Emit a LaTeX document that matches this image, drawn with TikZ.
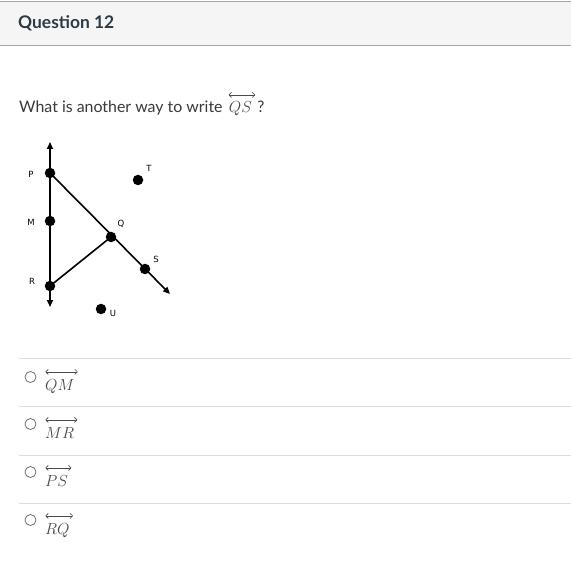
\RequirePackage{fix-cm}
\documentclass[tikz,border=0pt]{standalone}
\usepackage[no-math]{fontspec}
\setmainfont{Lato}
\newfontfamily\lblfont{DejaVu Sans}
\usetikzlibrary{arrows.meta,backgrounds}
\definecolor{hdrfill}{HTML}{F5F5F5}
\definecolor{hdrline}{HTML}{A5A5A5}
\definecolor{titlecol}{HTML}{2D3B45}
\definecolor{bodycol}{HTML}{3A3A3A}
\definecolor{sepcol}{HTML}{DDDDDD}
\definecolor{radiocol}{HTML}{707070}
\definecolor{mathcol}{HTML}{4A4A4A}
\tikzset{
  dot/.style={circle,fill=black,inner sep=0pt,minimum size=10.5pt},
  geoline/.style={line width=1.6pt,black},
  tip/.style={-{Triangle[length=7pt,width=6pt]}},
  lbl/.style={font=\lblfont\fontsize{8.5}{9}\selectfont,inner sep=0pt},
  sep/.style={sepcol,line width=0.9pt},
  radio/.style={circle,draw=radiocol,line width=0.8pt,inner sep=0pt,minimum size=11pt},
  opt/.style={anchor=base west,inner sep=0pt,text=mathcol,font=\fontsize{16}{18}\selectfont},
  marrow/.style={line width=0.6pt,{To[length=3pt,width=5.5pt]}-{To[length=3pt,width=5.5pt]}}
}
\begin{document}
\begin{tikzpicture}[x=1pt,y=-1pt]
\useasboundingbox (0,0) rectangle (571,567);
\begin{scope}[on background layer]
\fill[white] (0,0) rectangle (571,567);
\end{scope}
% header
\fill[hdrfill] (0,2) rectangle (571,46);
\draw[hdrline,line width=1pt] (0,2) -- (571,2);
\draw[hdrline,line width=1pt] (0,46) -- (571,46);
\node[anchor=base west,inner sep=0pt,text=titlecol,font=\fontsize{17.4}{20}\selectfont\bfseries] (title) at (18,29) {Question 12};
% question
\node[anchor=base west,inner sep=0pt,text=bodycol,font=\fontsize{15.9}{18}\selectfont] (q) at (19,113) {What is another way to write};
\node[anchor=base west,inner sep=0pt,text=mathcol,font=\fontsize{16}{18}\selectfont] (qs) at ([xshift=6pt]q.base east) {\(QS\)};
\node[anchor=base west,inner sep=0pt,text=bodycol,font=\fontsize{15.9}{18}\selectfont] (qm) at ([xshift=5pt]qs.base east) {?};
\draw[marrow,mathcol] ([xshift=0pt,yshift=7pt]qs.north west) -- ([xshift=3pt,yshift=7pt]qs.north east);
% diagram points
\node[dot] (P) at (50,173) {};
\node[dot] (M) at (50,221) {};
\node[dot] (R) at (50,286) {};
\node[dot] (Q) at (111,237) {};
\node[dot] (S) at (145,269) {};
\node[dot] (T) at (138,180) {};
\node[dot] (U) at (101,309) {};
\coordinate (Vtop) at (50,142);
\coordinate (Vbot) at (50,307);
\coordinate (Send) at (170,294);
\begin{scope}[on background layer]
\draw[geoline,tip] (P.center) -- (Vtop);
\draw[geoline,tip] (R.center) -- (Vbot);
\draw[geoline] (P.center) -- (R.center);
\draw[geoline,tip] (P.center) -- (Send);
\draw[geoline] (R.center) -- (Q.center);
\end{scope}
\node[lbl] (lP) at (31,174) {P};
\node[lbl] (lM) at (31,222) {M};
\node[lbl] (lR) at (32,281) {R};
\node[lbl] (lT) at (149,168) {T};
\node[lbl] (lQ) at (121,224) {Q};
\node[lbl] (lS) at (156,259) {S};
\node[lbl] (lU) at (113,313) {U};
% options
\draw[sep] (19,358) -- (571,358);
\draw[sep] (19,406) -- (571,406);
\draw[sep] (19,455) -- (571,455);
\draw[sep] (19,503) -- (571,503);
\node[radio] (r1) at (30.5,377) {};
\node[radio] (r2) at (30.5,424) {};
\node[radio] (r3) at (30.5,472) {};
\node[radio] (r4) at (30.5,520) {};
\node[opt] (o1) at (45,390) {\(QM\)};
\node[opt] (o2) at (45,438) {\(MR\)};
\node[opt] (o3) at (45,486) {\(PS\)};
\node[opt] (o4) at (45,534) {\(RQ\)};
\foreach \o in {o1,o2,o3,o4}{
  \draw[marrow,mathcol] ([xshift=0.5pt,yshift=7pt]\o.north west) -- ([xshift=3pt,yshift=7pt]\o.north east);
}
\end{tikzpicture}
\end{document}
